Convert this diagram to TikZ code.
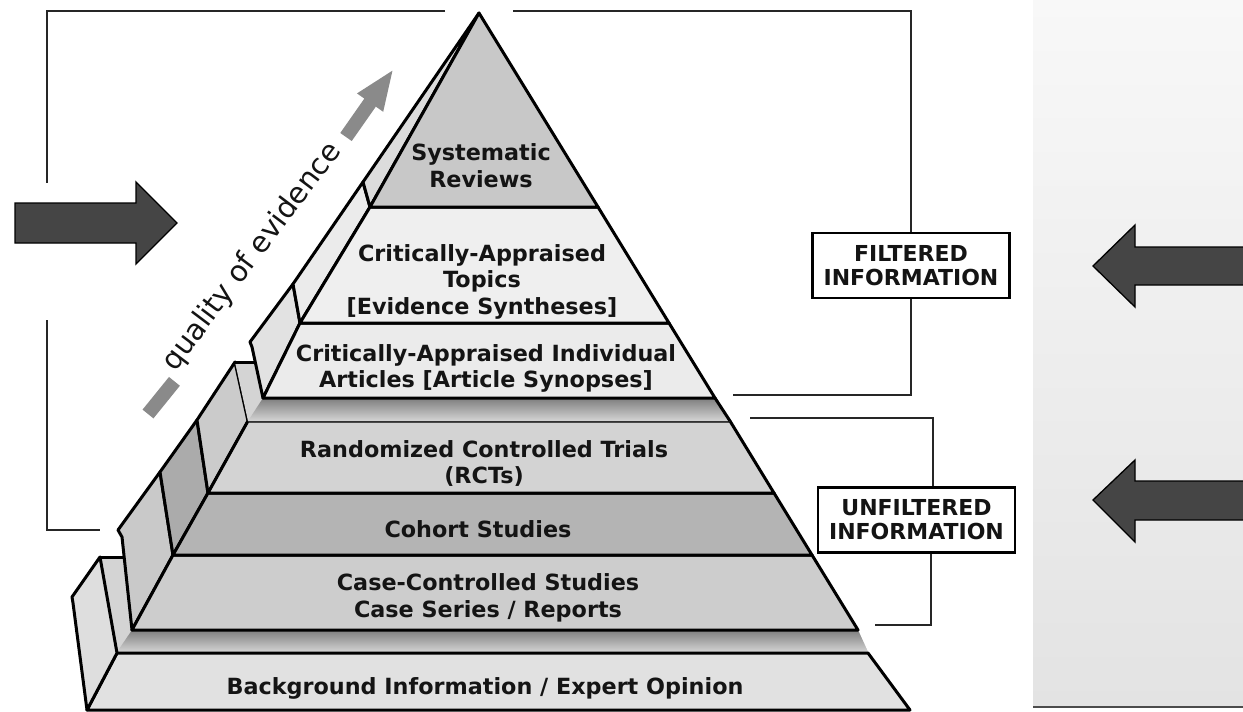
\documentclass[tikz,border=0pt]{standalone}
\usepackage{fontspec}
\setmainfont{DejaVu Sans}
\definecolor{txt}{HTML}{141414}
\definecolor{srf}{HTML}{C8C8C8}
\definecolor{srs}{HTML}{DCDCDC}
\definecolor{catf}{HTML}{EFEFEF}
\definecolor{cats}{HTML}{EBEBEB}
\definecolor{caiaf}{HTML}{EBEBEB}
\definecolor{caias}{HTML}{E2E2E2}
\definecolor{rctf}{HTML}{D3D3D3}
\definecolor{rcts}{HTML}{CBCBCB}
\definecolor{cohf}{HTML}{B4B4B4}
\definecolor{cohs}{HTML}{ABABAB}
\definecolor{casef}{HTML}{CDCDCD}
\definecolor{cases}{HTML}{C9C9C9}
\definecolor{bgf}{HTML}{E1E1E1}
\definecolor{bgs}{HTML}{DEDEDE}
\definecolor{shelf}{HTML}{D4D4D4}
\definecolor{shadow}{HTML}{7E7E7E}
\definecolor{qgray}{HTML}{8A8A8A}
\definecolor{arrowgray}{HTML}{454545}
\definecolor{paneltop}{HTML}{F8F8F8}
\definecolor{panelbot}{HTML}{E3E3E3}
\begin{document}
\begin{tikzpicture}[x=1pt,y=-1pt,
  face/.style={draw=black,line width=3pt,line join=round},
  frameline/.style={draw=black!85,line width=1.8pt},
  lbl/.style={font=\bfseries\fontsize{22.3}{26.5}\selectfont,align=center,text=txt,inner sep=0pt},
  infobox/.style={draw=black,line width=2.8pt,fill=white,align=center,minimum width=197pt,minimum height=65pt,inner sep=0pt,font=\bfseries\fontsize{22}{24}\selectfont,text=txt},
  bigarrow/.style={fill=arrowgray,draw=black,line width=1.3pt,line join=miter},
  grayarrow/.style={fill=qgray,draw=none}]
\useasboundingbox (0,0) rectangle (1243,712);
\fill[white] (0,0) rectangle (1243,712);

% right panel
\shade[top color=paneltop,bottom color=panelbot] (1033,0) rectangle (1243,707);
\draw[line width=2.5pt,draw=black!70] (1033,707) -- (1243,707);

% big arrows
\filldraw[bigarrow] (15,203) -- (136,203) -- (136,182) -- (177,223) -- (136,264) -- (136,243) -- (15,243) -- cycle;
\filldraw[bigarrow] (1245,247) -- (1135,247) -- (1135,225) -- (1093,266) -- (1135,307) -- (1135,285) -- (1245,285);
\filldraw[bigarrow] (1245,481) -- (1135,481) -- (1135,460) -- (1093,500) -- (1135,542) -- (1135,520) -- (1245,520);

% ---------- bottom tier ----------
\fill[shelf] (100,557) -- (124,557) -- (132,630) -- (858,630) -- (868,652) -- (117,653) -- cycle;
\shade[top color=shadow,bottom color=shelf] (132,630) -- (858,630) -- (868,652) -- (117,652) -- cycle;
\draw[face] (100,557) -- (124,557);
\filldraw[face,fill=bgf] (117,653) -- (868,653) -- (910,710) -- (87,710) -- cycle;
\filldraw[face,fill=bgs] (100,557) -- (117,653) -- (87,710) -- (73,603) -- (72,597) -- cycle;

% ---------- unfiltered tiers ----------
\filldraw[face,fill=cases] (160,472) -- (173,555) -- (132,630) -- (122,537) -- (118,530) -- cycle;
\filldraw[face,fill=casef] (173,555) -- (812,555) -- (858,630) -- (132,630) -- cycle;
\filldraw[face,fill=cohs] (197,420) -- (208,493) -- (173,555) -- (160,472) -- cycle;
\filldraw[face,fill=cohf] (208,493) -- (774,493) -- (812,555) -- (173,555) -- cycle;
\filldraw[face,fill=rcts] (235,362) -- (248,421) -- (208,493) -- (197,420) -- cycle;
\filldraw[face,fill=rctf] (248,421) -- (730,421) -- (774,493) -- (208,493) -- cycle;

% shelf between filtered and unfiltered
\fill[shelf] (235,362) -- (255,362) -- (263,398) -- (715,398) -- (730,421) -- (248,421) -- cycle;
\shade[top color=shadow,bottom color=shelf] (263,398) -- (715,398) -- (730,421) -- (248,421) -- cycle;
\draw[face] (235,362) -- (255,362);
\draw[face] (715,398) -- (730,421);

% ---------- filtered tiers ----------
\filldraw[face,fill=caias] (293,284) -- (300,323) -- (263,398) -- (252,347) -- (250,342) -- cycle;
\filldraw[face,fill=caiaf] (300,323) -- (669,323) -- (715,398) -- (263,398) -- cycle;
\filldraw[face,fill=cats] (363,182) -- (370,207) -- (300,323) -- (293,284) -- cycle;
\filldraw[face,fill=catf] (370,207) -- (598,207) -- (669,323) -- (300,323) -- cycle;
\filldraw[face,fill=srs] (479,13) -- (370,207) -- (363,182) -- cycle;
\filldraw[face,fill=srf] (479,13) -- (598,207) -- (370,207) -- cycle;

% ---------- quality of evidence arrow ----------
\begin{scope}[shift={(148,414)},rotate=51]
  \fill[grayarrow] (0,-7) rectangle (42,7);
\end{scope}
\begin{scope}[shift={(346,137)},rotate=55]
  \fill[grayarrow] (0,-7) -- (42,-7) -- (42,-16) -- (81,0) -- (42,16) -- (42,7) -- (0,7) -- cycle;
\end{scope}
\node[rotate=53,font=\fontsize{29}{31}\selectfont,text=txt,inner sep=0pt] (qual) at (252,257) {quality of evidence};

% ---------- labels ----------
\node[lbl] (sr) at (481,165.5) {Systematic\\Reviews};
\node[lbl] (cat) at (482,281.5) {Critically-Appraised\\Topics\\{[}Evidence Syntheses]};
\node[lbl] (caia) at (486,368.5) {Critically-Appraised Individual\\Articles [Article Synopses]};
\node[lbl] (rct) at (484,463.5) {Randomized Controlled Trials\\(RCTs)};
\node[lbl] (coh) at (478,529) {Cohort Studies};
\node[lbl] (case) at (488,598) {Case-Controlled Studies\\Case Series / Reports};
\node[lbl] (bg) at (485,688) {Background Information / Expert Opinion};

% ---------- info boxes and brackets ----------
\node[infobox] (filt) at (911,265.5) {FILTERED\\INFORMATION};
\node[infobox] (unfilt) at (916.5,520) {UNFILTERED\\INFORMATION};

\coordinate (tl) at (445,11);
\coordinate (tr) at (513,11);
\coordinate (lb) at (47,183);
\coordinate (lt2) at (47,320);
\coordinate (lend) at (100,530);
\coordinate (fend) at (733,395);
\coordinate (utop) at (750,418);
\coordinate (ucorner) at (933,418);
\coordinate (ubot) at (931,625);
\coordinate (uend) at (875,625);

\draw[frameline] (tl) -| (lb);
\draw[frameline] (lt2) |- (lend);
\draw[frameline] (tr) -| (filt.north);
\draw[frameline] (filt.south) |- (fend);
\draw[frameline] (utop) -- (ucorner) -- (ucorner |- unfilt.north);
\draw[frameline] (ubot |- unfilt.south) -- (ubot) -- (uend);
\end{tikzpicture}
\end{document}
